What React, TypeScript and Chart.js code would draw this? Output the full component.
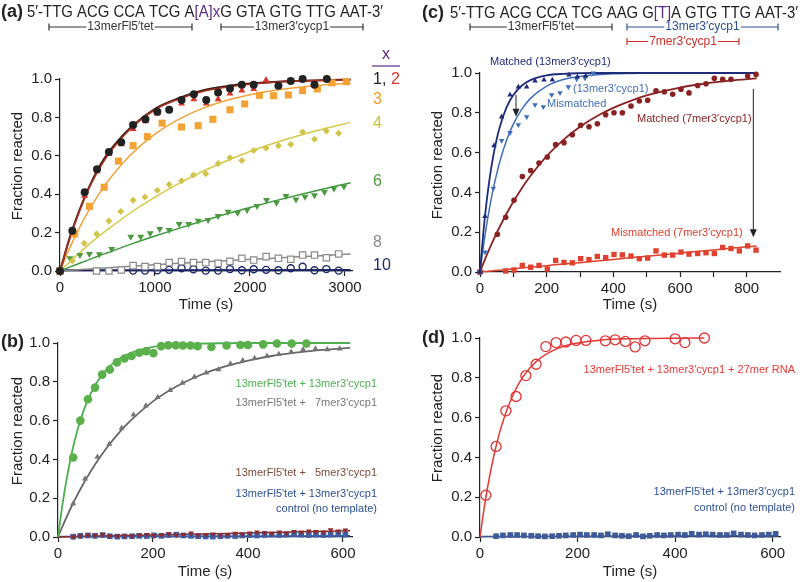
import React, { useEffect, useRef } from 'react';
import { Chart, registerables } from 'chart.js';
Chart.register(...registerables);

const FONT = '"Liberation Sans", Arial, Helvetica, sans-serif';
Chart.defaults.font.family = FONT;

// ---------- axis ticks ----------
const aXTicks = [0, 1000, 2000, 3000];
const bXTicks = [0, 200, 400, 600];
const cXTicks = [0, 100, 200, 300, 400, 500, 600, 700, 800];
const dXTicks = [0, 200, 400, 600];
const yTicks = [0, 0.2, 0.4, 0.6, 0.8, 1.0];

// ---------- Panel (a) ----------
const aTime1 = [0,130,260,390,515,645,770,900,1025,1150,1280,1410,1540,1665,1790,1915,2040,2300,2430,2555,2680,2810];
const aX1 = [0,0.21,0.41,0.53,0.62,0.67,0.76,0.79,0.83,0.84,0.89,0.92,0.89,0.93,0.95,0.97,0.97,0.965,0.99,1.0,0.97,1.0];
const aTime2 = [0,130,260,390,515,645,770,900,1025,1150,1280,1410,1540,1665,1790,1915,2040,2170];
const aX2 = [0,0.2,0.39,0.52,0.61,0.66,0.74,0.78,0.82,0.84,0.873,0.894,0.873,0.894,0.925,0.94,0.948,0.995];
const aTime3 = [0,155,310,465,615,770,920,1075,1280,1455,1610,1790,1945,2100,2250,2405,2555,2710,2865,3015];
const aX3 = [0,0.193,0.337,0.436,0.573,0.653,0.70,0.77,0.75,0.757,0.79,0.84,0.87,0.915,0.913,0.917,0.94,0.948,0.98,0.986];
const aTime4 = [0,130,255,385,515,640,770,895,1025,1150,1280,1405,1535,1665,1790,1915,2040,2170,2300,2430,2555,2680,2805,2935];
const aX4 = [0,0.054,0.144,0.193,0.26,0.31,0.368,0.385,0.42,0.45,0.47,0.50,0.506,0.56,0.59,0.575,0.627,0.64,0.652,0.66,0.724,0.686,0.729,0.717];
const aTime6 = [0,105,210,310,415,545,745,850,950,1050,1150,1255,1355,1455,1560,1665,1770,1870,1970,2075,2175,2280,2380,2485,2580,2680,2785,2885,2990];
const aX6 = [0,0.066,0.083,0.089,0.087,0.115,0.179,0.179,0.196,0.219,0.214,0.245,0.245,0.262,0.266,0.286,0.309,0.304,0.318,0.339,0.37,0.356,0.39,0.373,0.387,0.394,0.411,0.43,0.44];
const aTime8 = [0,385,515,645,770,895,1025,1150,1280,1405,1535,1665,1790,1915,2040,2170,2300,2430,2555,2680,2805,2935];
const aX8 = [0,0,0,0.005,0.028,0.023,0.023,0.044,0.049,0.044,0.044,0.04,0.05,0.066,0.057,0.075,0.066,0.061,0.083,0.083,0.069,0.089];
const aTime10 = [0,770,895,1025,1150,1280,1405,1535,1665,1790,1915,2040,2170,2300,2430,2555,2680,2805,2935];
const aX10 = [0,0.002,0.002,0.004,0.006,0.014,0.009,0.002,0.002,0.01,0.004,0.009,0.006,0.004,0.014,0.022,0.004,0.01,0.002];

const aFitT = [0,100,200,300,400,500,750,1000,1250,1500,1750,2000,2250,2500,2750,3060];
const aFit1 = [0,0.17,0.31,0.43,0.53,0.61,0.75,0.845,0.90,0.94,0.962,0.976,0.985,0.99,0.994,0.997];
const aFit2 = [0,0.165,0.305,0.425,0.52,0.60,0.745,0.84,0.895,0.935,0.958,0.973,0.983,0.989,0.993,0.996];
const aFit3 = [0,0.118,0.221,0.313,0.393,0.465,0.608,0.713,0.79,0.847,0.888,0.918,0.94,0.956,0.968,0.978];
const aFit4 = [0,0.047,0.092,0.136,0.178,0.216,0.306,0.385,0.455,0.518,0.573,0.622,0.665,0.703,0.737,0.774];
const aFit6 = [0,0.02,0.039,0.058,0.077,0.095,0.14,0.182,0.222,0.26,0.297,0.331,0.364,0.395,0.424,0.46];
const aFit8 = [0,0.003,0.007,0.01,0.014,0.017,0.025,0.033,0.04,0.047,0.054,0.061,0.067,0.074,0.08,0.088];
const aFit10T = [0,3060];
const aFit10 = [0.004,0.005];

// ---------- Panel (c) ----------
const cTimeA = [0,15,42,65,90,115,140,165,192,217,267,292,317];
const cA = [0,0.28,0.635,0.78,0.89,0.93,0.93,0.96,0.965,0.965,0.99,0.98,0.985];
const cTimeB = [0,15,40,65,90,115,140,165,190,215,240,265,290,315,340];
const cB = [0,0.10,0.42,0.66,0.70,0.74,0.78,0.84,0.83,0.89,0.90,0.93,0.97,0.975,1.0];
const cTimeC = [0,52,77,102,127,152,177,202,227,252,277,302,327,352,377,402,427,453,478,503,528,553,578,603,627,653,678,703,728,753,803,828];
const cC = [0,0.19,0.275,0.36,0.48,0.51,0.548,0.578,0.64,0.65,0.69,0.737,0.73,0.745,0.79,0.80,0.80,0.834,0.859,0.863,0.91,0.906,0.893,0.918,0.90,0.937,0.946,0.973,0.968,0.968,0.985,0.993];
const cTimeD = [0,77,102,127,152,177,202,227,252,277,302,327,352,377,402,427,453,478,503,528,553,578,603,627,653,678,703,728,753,778,803,828];
const cD = [0,0.005,0.01,0.033,0.024,0.033,0.015,0.058,0.048,0.046,0.067,0.062,0.078,0.072,0.088,0.086,0.08,0.067,0.07,0.106,0.085,0.085,0.10,0.09,0.093,0.097,0.093,0.123,0.118,0.106,0.131,0.11];

const cFitT = [0,10,20,30,40,50,60,80,100,125,150,200,250,300,350,400,450,500,550,600,650,700,750,830];
const cFitA = [0,0.197,0.356,0.483,0.585,0.667,0.733,0.828,0.889,0.936,0.963,0.988,0.996,0.999,1,1,1,1,1,1,1,1,1,1];
const cFitB = [0,0.127,0.238,0.335,0.42,0.493,0.558,0.663,0.743,0.817,0.87,0.934,0.967,0.983,0.991,0.996,0.998,0.999,1,1,1,1,1,1];
const cFitC = [0,0.043,0.084,0.123,0.16,0.196,0.23,0.294,0.353,0.42,0.48,0.582,0.664,0.73,0.783,0.825,0.859,0.887,0.909,0.927,0.941,0.953,0.962,0.973];
const cFitD = [0,0.002,0.003,0.005,0.006,0.008,0.009,0.013,0.016,0.02,0.024,0.032,0.04,0.047,0.055,0.063,0.071,0.079,0.087,0.095,0.103,0.111,0.119,0.131];

// ---------- Panel (b) ----------
const bTimeG = [32,47,63,78,93,109,124,140,155,171,186,201,217,232,248,263,279,294,323,355,384,400,432,461,492,523];
const bG = [0.41,0.60,0.71,0.77,0.837,0.863,0.90,0.92,0.933,0.95,0.958,0.948,0.984,0.988,0.988,0.987,0.987,0.984,0.979,0.987,0.99,0.99,0.993,0.997,0.997,0.997];
const bTimeK = [32,57,83,108,134,159,185,210,236,262,287,312,338,363,389,414,440,465,491,516,542,567,593];
const bK = [0.172,0.30,0.412,0.48,0.562,0.63,0.676,0.72,0.756,0.794,0.825,0.847,0.864,0.893,0.91,0.922,0.933,0.942,0.954,0.966,0.971,0.966,0.971];
const bTimeLow = [32,47,63,78,94,109,125,140,156,171,187,202,218,233,249,264,280,295,311,326,342,357,373,388,404,419,435,450,466,481,497,512,528,543,559,574,590,605];
const b5 = [0,0.005,0.01,0.008,0.012,0.005,0.004,0.006,0.005,0.01,0.012,0.008,0.01,0.016,0.01,0.012,0.02,0.01,0.012,0.015,0.01,0.012,0.018,0.015,0.02,0.025,0.022,0.018,0.025,0.02,0.028,0.025,0.03,0.028,0.025,0.036,0.03,0.035];
const bCtl = [0.002,0.006,0.008,0.006,0.01,0.004,0.002,0.003,0.004,0.006,0.005,0.008,0.006,0.01,0.012,0.008,0.006,0.004,0.003,0.002,0.004,0.006,0.005,0.008,0.01,0.008,0.01,0.012,0.01,0.012,0.014,0.012,0.01,0.012,0.01,0.012,0.014,0.012];

const bFitT = [0,10,20,30,40,50,60,80,100,125,150,200,250,300,350,400,450,500,550,615];
const bFitG = [0,0.177,0.323,0.443,0.542,0.623,0.69,0.79,0.858,0.913,0.946,0.98,0.992,0.997,0.999,1,1,1,1,1];
const bFitK = [0,0.058,0.113,0.165,0.213,0.259,0.302,0.381,0.451,0.528,0.593,0.699,0.777,0.835,0.878,0.909,0.933,0.95,0.963,0.975];
const bLowFitT = [0,200,400,615];
const bFit5 = [0,0.01,0.021,0.032];
const bFitCtl = [0.003,0.004,0.005,0.006];

// ---------- Panel (d) ----------
const dTimeR = [12,33,53,74,94,115,135,156,176,197,217,257,277,298,318,338,400,420,460];
const dR = [0.21,0.455,0.634,0.706,0.811,0.868,0.957,0.977,0.98,0.988,0.988,0.986,0.991,0.983,0.955,0.986,0.996,0.977,1.0];
const dFitT = [0,10,20,30,40,50,60,80,100,125,150,175,200,250,300,350,400,460];
const dFitR = [0,0.169,0.309,0.426,0.523,0.603,0.67,0.773,0.843,0.901,0.938,0.961,0.975,0.99,0.996,0.998,0.999,1.0];
const dTimeC = [33,47,62,76,90,105,119,133,148,162,176,191,205,219,234,248,262,277,291,305,320,334,348,363,377,391,406,420,434,449,463,477,492,506,520,535,549,563,578,592,606];
const dC = [0.004,0.008,0.01,0.01,0.008,0.006,0.004,0.003,0.004,0.006,0.008,0.01,0.012,0.01,0.01,0.008,0.014,0.008,0.006,0.004,0.01,0.003,0.006,0.01,0.008,0.01,0.012,0.01,0.016,0.012,0.014,0.012,0.01,0.01,0.018,0.012,0.01,0.008,0.01,0.012,0.016];
const dCtlFitT = [0,610];
const dCtlFit = [0.003,0.006];

// ---------- helpers ----------
const INK = '#222';
const pts = (xs: number[], ys: number[]) => xs.map((x, i) => ({ x, y: ys[i] }));

function scat(xs: number[], ys: number[], o: any) {
  return {
    data: pts(xs, ys), showLine: false, clip: false,
    pointStyle: o.style, pointRadius: o.r, pointRotation: o.rot || 0,
    pointBackgroundColor: o.fill, pointBorderColor: o.stroke || o.fill,
    pointBorderWidth: o.bw ?? 0,
  };
}
function fit(xs: number[], ys: number[], color: string, w = 1.5) {
  return {
    data: pts(xs, ys), showLine: true, pointRadius: 0, borderColor: color, borderWidth: w,
    cubicInterpolationMode: 'monotone', clip: false, fill: false,
  };
}

type Area = { l: number; r: number; t: number; b: number; titleY: number };
const Y_W = 50;

function options(area: Area, xMax: number, xTicks: number[], labelEvery: number) {
  const xH = area.titleY + 13 - area.b;
  const axisCommon = {
    border: { display: true, color: INK, width: 1.2 },
    grid: { display: true, drawOnChartArea: false, drawTicks: true, tickLength: 5, color: INK, tickWidth: 1.2 },
  };
  return {
    responsive: false, animation: false, events: [],
    layout: { padding: { left: area.l - Y_W, right: 800 - area.r, top: area.t, bottom: 582 - (area.b + xH) } },
    plugins: { legend: { display: false }, tooltip: { enabled: false }, title: { display: false } },
    scales: {
      x: {
        type: 'linear', min: 0, max: xMax, ...axisCommon,
        afterFit: (s: any) => { s.height = xH; },
        afterBuildTicks: (s: any) => { s.ticks = xTicks.map((v) => ({ value: v })); },
        ticks: {
          autoSkip: false, maxRotation: 0, minRotation: 0, padding: 3,
          color: INK, font: { family: FONT, size: 15 },
          callback: (v: any) => (Math.round(Number(v)) % labelEvery === 0 ? String(Math.round(Number(v))) : ''),
        },
        title: { display: true, text: 'Time (s)', color: INK, font: { family: FONT, size: 15 }, padding: { top: 4, bottom: 4 } },
      },
      y: {
        type: 'linear', min: 0, max: 1, ...axisCommon,
        afterFit: (s: any) => { s.width = Y_W; },
        afterBuildTicks: (s: any) => { s.ticks = yTicks.map((v) => ({ value: v })); },
        ticks: { autoSkip: false, padding: 3, color: INK, font: { family: FONT, size: 15 }, callback: (v: any) => Number(v).toFixed(1) },
      },
    },
  };
}

function text(ctx: any, s: string, x: number, y: number, color: string, font: string, align = 'left') {
  ctx.save();
  ctx.font = font; ctx.fillStyle = color; ctx.textAlign = align; ctx.textBaseline = 'middle';
  ctx.fillText(s, x, y);
  ctx.restore();
}
function yTitle(ctx: any, x: number, y: number) {
  ctx.save();
  ctx.translate(x, y); ctx.rotate(-Math.PI / 2);
  ctx.font = `15px ${FONT}`; ctx.fillStyle = INK; ctx.textAlign = 'center'; ctx.textBaseline = 'middle';
  ctx.fillText('Fraction reacted', 0, 0);
  ctx.restore();
}
function seq(ctx: any, segs: [string, string][], x: number, y: number, width: number) {
  ctx.save();
  ctx.font = `17px ${FONT}`; ctx.textBaseline = 'middle'; ctx.textAlign = 'left';
  const total = segs.reduce((a, [s]) => a + ctx.measureText(s).width, 0);
  ctx.translate(x, y); ctx.scale(width / total, 1);
  let cx = 0;
  for (const [s, c] of segs) { ctx.fillStyle = c; ctx.fillText(s, cx, 0); cx += ctx.measureText(s).width; }
  ctx.restore();
}
function bracket(ctx: any, x1: number, x2: number, y: number, label: string, color: string) {
  ctx.save();
  ctx.font = `12px ${FONT}`;
  const w = ctx.measureText(label).width;
  const cx = (x1 + x2) / 2;
  ctx.strokeStyle = color; ctx.lineWidth = 1.2;
  ctx.beginPath();
  ctx.moveTo(x1, y); ctx.lineTo(cx - w / 2 - 1, y);
  ctx.moveTo(cx + w / 2 + 1, y); ctx.lineTo(x2, y);
  ctx.moveTo(x1, y - 3.5); ctx.lineTo(x1, y + 3.5);
  ctx.moveTo(x2, y - 3.5); ctx.lineTo(x2, y + 3.5);
  ctx.stroke();
  ctx.fillStyle = color; ctx.textAlign = 'center'; ctx.textBaseline = 'middle';
  ctx.fillText(label, cx, y);
  ctx.restore();
}
function arrow(ctx: any, x: number, y1: number, y2: number) {
  ctx.save();
  ctx.strokeStyle = INK; ctx.fillStyle = INK; ctx.lineWidth = 1;
  ctx.beginPath(); ctx.moveTo(x, y1); ctx.lineTo(x, y2 - 6); ctx.stroke();
  ctx.beginPath(); ctx.moveTo(x - 3.5, y2 - 8); ctx.lineTo(x + 3.5, y2 - 8); ctx.lineTo(x, y2); ctx.closePath(); ctx.fill();
  ctx.restore();
}
const px = (c: any, t: number, f: number) => [c.scales.x.getPixelForValue(t), c.scales.y.getPixelForValue(f)];

const F11 = `11px ${FONT}`;
const F16 = `16px ${FONT}`;
const FB = `bold 18px ${FONT}`;
const PURPLE = '#5b2a86';

// ---------- configs ----------
function cfgA() {
  const area = { l: 60, r: 352, t: 79, b: 271, titleY: 305 };
  return {
    type: 'scatter',
    data: {
      datasets: [
        scat(aTime1, aX1, { style: 'circle', r: 4, fill: '#222' }),
        scat(aTime2, aX2, { style: 'triangle', r: 4, fill: '#d9362b' }),
        scat(aTime3, aX3, { style: 'rect', r: 5, fill: '#f4a233' }),
        scat(aTime4, aX4, { style: 'rectRot', r: 3.5, fill: '#cfc54a' }),
        scat(aTime6, aX6, { style: 'triangle', r: 4, rot: 180, fill: '#4b9a3f' }),
        scat(aTime8, aX8, { style: 'rect', r: 4.5, fill: '#ffffff', stroke: '#8a8a8a', bw: 1.2 }),
        scat(aTime10, aX10, { style: 'circle', r: 3.5, fill: 'rgba(0,0,0,0)', stroke: '#1c2a6e', bw: 1.4 }),
        fit(aFitT, aFit2, '#a8321f', 1.6),
        fit(aFitT, aFit1, '#3a1a14', 2),
        fit(aFitT, aFit3, '#f2a23a'),
        fit(aFitT, aFit4, '#d6c94a'),
        fit(aFitT, aFit6, '#3f9a3f'),
        fit(aFitT, aFit8, '#8a8a8a'),
        fit(aFit10T, aFit10, '#1c2463', 2.2),
      ],
    },
    options: options(area, 3075, aXTicks, 1000),
    plugins: [{
      id: 'annA',
      afterDraw(c: any) {
        const ctx = c.ctx;
        text(ctx, '(a)', 1, 12, INK, FB);
        seq(ctx, [['5′-TTG ACG CCA TCG A', INK], ['[A]x', PURPLE], ['G GTA GTG TTG AAT-3′', INK]], 27, 12.5, 356);
        bracket(ctx, 49, 192, 27, '13merFl5′tet', '#333');
        bracket(ctx, 221, 363, 27, '13mer3′cycp1', '#333');
        text(ctx, 'x', 386, 55, PURPLE, F16, 'center');
        ctx.save(); ctx.strokeStyle = PURPLE; ctx.lineWidth = 1.2;
        ctx.beginPath(); ctx.moveTo(372, 66); ctx.lineTo(400, 66); ctx.stroke(); ctx.restore();
        text(ctx, '1,', 373, 80, INK, F16);
        text(ctx, '2', 391, 80, '#d9362b', F16);
        text(ctx, '3', 373, 100, '#f39a2b', F16);
        text(ctx, '4', 373, 124, '#cbbf35', F16);
        text(ctx, '6', 373, 182, '#4b9a3f', F16);
        text(ctx, '8', 373, 243, '#8a8a8a', F16);
        text(ctx, '10', 373, 266, '#1c2a6e', F16);
        yTitle(ctx, 18, 166);
      },
    }],
  };
}

function cfgC() {
  const area = { l: 480, r: 780, t: 73, b: 272, titleY: 305 };
  return {
    type: 'scatter',
    data: {
      datasets: [
        scat(cTimeA, cA, { style: 'triangle', r: 3.2, fill: '#1f2c7a' }),
        scat(cTimeB, cB, { style: 'triangle', r: 3.2, rot: 180, fill: '#3f6fb8' }),
        scat(cTimeC, cC, { style: 'circle', r: 2.8, fill: '#8b2222' }),
        scat(cTimeD, cD, { style: 'rect', r: 3.8, fill: '#e0402e' }),
        fit(cFitT, cFitA, '#1f2c7a', 1.8),
        fit(cFitT, cFitB, '#3f6fb8', 1.5),
        fit(cFitT, cFitC, '#8b2222', 1.8),
        fit(cFitT, cFitD, '#e0402e', 1.5),
      ],
    },
    options: options(area, 900, cXTicks, 200),
    plugins: [{
      id: 'annC',
      afterDraw(c: any) {
        const ctx = c.ctx;
        text(ctx, '(c)', 422, 13, INK, FB);
        seq(ctx, [['5′-TTG ACG CCA TCG AAG G', INK], ['[T]', PURPLE], ['A GTG TTG AAT-3′', INK]], 450, 13, 348);
        bracket(ctx, 470, 612, 27, '13merFl5′tet', '#333');
        bracket(ctx, 627, 778, 27, '13mer3′cycp1', '#2c4f96');
        bracket(ctx, 627, 739, 41.5, '7mer3′cycp1', '#d0302a');
        let p = px(c, 30, 1.054); text(ctx, 'Matched (13mer3′cycp1)', p[0], p[1], '#1f2c7a', F11);
        p = px(c, 279, 0.918); text(ctx, '(13mer3′cycp1)', p[0], p[1], '#3f6fb8', F11);
        p = px(c, 201, 0.843); text(ctx, 'Mismatched', p[0], p[1], '#3f6fb8', F11);
        p = px(c, 471, 0.767); text(ctx, 'Matched (7mer3′cycp1)', p[0], p[1], '#8b2222', F11);
        p = px(c, 393, 0.195); text(ctx, 'Mismatched (7mer3′cycp1)', p[0], p[1], '#e0402e', F11);
        let a = px(c, 108, 0.89), b2 = px(c, 108, 0.78); arrow(ctx, a[0], a[1], b2[1]);
        a = px(c, 820, 0.92); b2 = px(c, 820, 0.175); arrow(ctx, a[0], a[1], b2[1]);
        yTitle(ctx, 437.5, 165);
      },
    }],
  };
}

function cfgB() {
  const area = { l: 58, r: 352, t: 343, b: 537, titleY: 572 };
  return {
    type: 'scatter',
    data: {
      datasets: [
        scat(bTimeG, bG, { style: 'circle', r: 4.3, fill: '#5bb04c' }),
        scat(bTimeK, bK, { style: 'triangle', r: 3.5, fill: '#757575' }),
        scat(bTimeLow, b5, { style: 'triangle', r: 3.3, rot: 180, fill: '#8f2a2a' }),
        scat(bTimeLow, bCtl, { style: 'rect', r: 4, fill: '#3c5fa8' }),
        fit(bFitT, bFitG, '#4caf50', 1.8),
        fit(bFitT, bFitK, '#666666', 1.8),
        fit(bLowFitT, bFit5, '#8f2a2a', 1.5),
        fit(bLowFitT, bFitCtl, '#3c5fa8', 1.5),
      ],
    },
    options: options(area, 619, bXTicks, 200),
    plugins: [{
      id: 'annB',
      afterDraw(c: any) {
        const ctx = c.ctx;
        text(ctx, '(b)', 1, 342, INK, FB);
        text(ctx, "13merFl5'tet + 13mer3'cycp1", 377, 384, '#4caf50', F11, 'right');
        text(ctx, "13merFl5'tet +   7mer3'cycp1", 377, 403, '#777777', F11, 'right');
        text(ctx, "13merFl5'tet +   5mer3'cycp1", 377, 473, '#7b4b3a', F11, 'right');
        text(ctx, "13merFl5'tet + 13mer3'cycp1", 377, 494, '#2c4f96', F11, 'right');
        text(ctx, 'control (no template)', 377, 509, '#2c4f96', F11, 'right');
        yTitle(ctx, 17.5, 431);
      },
    }],
  };
}

function cfgD() {
  const area = { l: 480, r: 780, t: 338, b: 537, titleY: 572 };
  return {
    type: 'scatter',
    data: {
      datasets: [
        scat(dTimeR, dR, { style: 'circle', r: 5, fill: 'rgba(0,0,0,0)', stroke: '#e03535', bw: 1.3 }),
        scat(dTimeC, dC, { style: 'rect', r: 4, fill: '#3d5a9a' }),
        fit(dFitT, dFitR, '#e53935', 1.5),
        fit(dCtlFitT, dCtlFit, '#3d5a9a', 1.5),
      ],
    },
    options: options(area, 615, dXTicks, 200),
    plugins: [{
      id: 'annD',
      afterDraw(c: any) {
        const ctx = c.ctx;
        text(ctx, '(d)', 422, 338, INK, FB);
        text(ctx, "13merFl5'tet + 13mer3'cycp1 + 27mer RNA", 795, 370, '#e53935', F11, 'right');
        text(ctx, "13merFl5'tet + 13mer3'cycp1", 795, 492, '#2c4f96', F11, 'right');
        text(ctx, 'control (no template)', 795, 508, '#2c4f96', F11, 'right');
        yTitle(ctx, 437.5, 428);
      },
    }],
  };
}

export default function App() {
  const r0 = useRef<HTMLCanvasElement>(null);
  const r1 = useRef<HTMLCanvasElement>(null);
  const r2 = useRef<HTMLCanvasElement>(null);
  const r3 = useRef<HTMLCanvasElement>(null);
  useEffect(() => {
    const list = [[r0, cfgA()], [r1, cfgC()], [r2, cfgB()], [r3, cfgD()]] as any[];
    const charts = list.map(([r, cfg]) => new Chart(r.current, cfg));
    return () => charts.forEach((ch) => ch.destroy());
  }, []);
  const st: any = { position: 'absolute', left: 0, top: 0 };
  return (
    <div style={{ position: 'fixed', left: 0, top: 0, width: 800, height: 582, background: '#fff', overflow: 'hidden' }}>
      <canvas ref={r0} width={800} height={582} style={st} />
      <canvas ref={r1} width={800} height={582} style={st} />
      <canvas ref={r2} width={800} height={582} style={st} />
      <canvas ref={r3} width={800} height={582} style={st} />
    </div>
  );
}
